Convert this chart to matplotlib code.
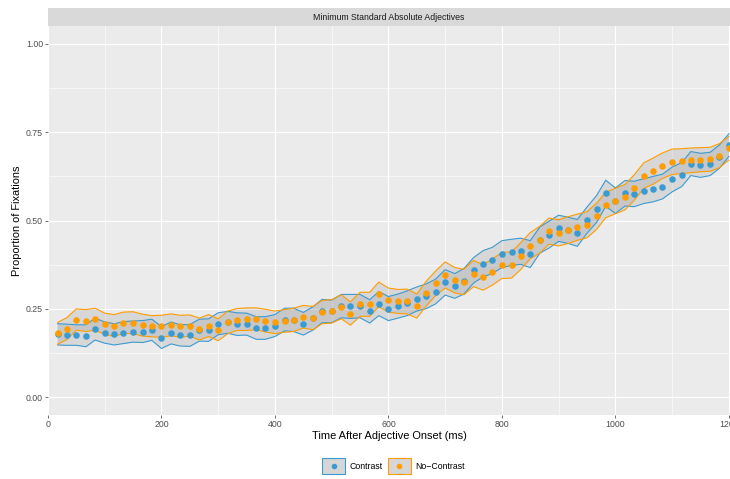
import numpy as np
import matplotlib
matplotlib.use("Agg")
import matplotlib.pyplot as plt
from matplotlib.patches import Rectangle
from matplotlib.lines import Line2D

plt.rcParams['font.family'] = ['Liberation Sans', 'DejaVu Sans']

# time bins after adjective onset (ms)
times = [17, 33, 50, 67, 83, 100, 117, 133, 150, 167, 183, 200,
         217, 233, 250, 267, 283, 300, 317, 333, 350, 367, 383, 400,
         417, 433, 450, 467, 483, 500, 517, 533, 550, 567, 583, 600,
         617, 633, 650, 667, 683, 700, 717, 733, 750, 767, 783, 800,
         817, 833, 850, 867, 883, 900, 917, 933, 950, 967, 983, 1000,
         1017, 1033, 1050, 1067, 1083, 1100, 1117, 1133, 1150, 1167, 1183, 1200]

contrast = [0.178, 0.177, 0.176, 0.174, 0.193, 0.183, 0.178, 0.183, 0.186, 0.186, 0.191, 0.169,
            0.182, 0.175, 0.175, 0.190, 0.190, 0.208, 0.212, 0.207, 0.207, 0.196, 0.196, 0.203,
            0.220, 0.219, 0.208, 0.223, 0.244, 0.243, 0.258, 0.257, 0.258, 0.243, 0.265, 0.251,
            0.258, 0.266, 0.278, 0.286, 0.299, 0.325, 0.315, 0.328, 0.359, 0.378, 0.387, 0.405,
            0.410, 0.413, 0.405, 0.445, 0.460, 0.478, 0.472, 0.465, 0.501, 0.533, 0.577, 0.556,
            0.577, 0.575, 0.583, 0.589, 0.596, 0.616, 0.630, 0.661, 0.656, 0.660, 0.680, 0.713]

no_contrast = [0.181, 0.194, 0.220, 0.217, 0.221, 0.208, 0.203, 0.211, 0.211, 0.204, 0.201, 0.201,
               0.205, 0.201, 0.203, 0.193, 0.203, 0.191, 0.212, 0.220, 0.221, 0.222, 0.217, 0.212,
               0.216, 0.219, 0.228, 0.224, 0.241, 0.243, 0.256, 0.237, 0.263, 0.263, 0.291, 0.275,
               0.271, 0.271, 0.258, 0.294, 0.322, 0.346, 0.331, 0.326, 0.350, 0.339, 0.354, 0.373,
               0.374, 0.399, 0.429, 0.446, 0.470, 0.465, 0.473, 0.481, 0.488, 0.512, 0.544, 0.555,
               0.566, 0.593, 0.627, 0.640, 0.655, 0.666, 0.668, 0.670, 0.672, 0.673, 0.683, 0.704]

# half width of the confidence band
contrast_ci = [0.030, 0.030, 0.029, 0.031, 0.031, 0.030, 0.030, 0.031, 0.030, 0.031, 0.030, 0.031,
               0.031, 0.030, 0.031, 0.031, 0.032, 0.031, 0.031, 0.032, 0.031, 0.032, 0.032, 0.031,
               0.032, 0.033, 0.032, 0.033, 0.033, 0.032, 0.033, 0.034, 0.033, 0.033, 0.034, 0.034,
               0.034, 0.035, 0.034, 0.035, 0.035, 0.036, 0.035, 0.036, 0.036, 0.037, 0.037, 0.038,
               0.037, 0.037, 0.038, 0.037, 0.038, 0.037, 0.037, 0.038, 0.037, 0.038, 0.037, 0.036,
               0.036, 0.036, 0.035, 0.036, 0.035, 0.035, 0.034, 0.034, 0.034, 0.033, 0.033, 0.032]

no_contrast_ci = [0.031, 0.031, 0.030, 0.031, 0.031, 0.030, 0.031, 0.030, 0.031, 0.031, 0.030, 0.031,
                  0.031, 0.031, 0.030, 0.031, 0.031, 0.031, 0.032, 0.031, 0.032, 0.031, 0.032, 0.032,
                  0.032, 0.033, 0.032, 0.033, 0.033, 0.033, 0.034, 0.033, 0.034, 0.034, 0.035, 0.034,
                  0.034, 0.035, 0.034, 0.035, 0.035, 0.037, 0.036, 0.036, 0.037, 0.036, 0.037, 0.037,
                  0.037, 0.038, 0.037, 0.038, 0.037, 0.037, 0.038, 0.037, 0.037, 0.037, 0.036, 0.036,
                  0.036, 0.036, 0.036, 0.037, 0.036, 0.036, 0.035, 0.035, 0.034, 0.034, 0.034, 0.033]

labels = ["Contrast", "No\u2212Contrast"]
colors = ["#3a9ad2", "#ff9c00"]


class KeyHandler:
    # grey box with coloured border and a dot in the middle, like a ggplot key
    def legend_artist(self, legend, orig_handle, fontsize, handlebox):
        x0, y0 = handlebox.xdescent, handlebox.ydescent
        w, h = handlebox.width, handlebox.height
        c = orig_handle.get_color()
        box = Rectangle((-x0, -y0), w, h, facecolor="#d6d6d6", edgecolor=c, lw=0.8,
                        transform=handlebox.get_transform())
        dot = Line2D([-x0 + w / 2], [-y0 + h / 2], ls="", marker="o", ms=4.0, mew=0,
                     color=c, transform=handlebox.get_transform())
        handlebox.add_artist(box)
        handlebox.add_artist(dot)
        return box


W, H = 730, 479
fig = plt.figure(figsize=(W / 100, H / 100), dpi=100)
ax = fig.add_axes([48 / W, 64 / H, 682 / W, 389 / H])
ax.set_facecolor("#ebebeb")
for s in ax.spines.values():
    s.set_visible(False)

t = np.array(times)
series = [(np.array(contrast), np.array(contrast_ci)),
          (np.array(no_contrast), np.array(no_contrast_ci))]

for (m, ci), c in zip(series, colors):
    ax.fill_between(t, m - ci, m + ci, facecolor="#7f7f7f", alpha=0.18, lw=0, zorder=2)
for (m, ci), c in zip(series, colors):
    ax.plot(t, m + ci, color=c, lw=0.8, zorder=3)
    ax.plot(t, m - ci, color=c, lw=0.8, zorder=3)
for (m, ci), c in zip(series, colors):
    ax.plot(t, m, ls="", marker="o", ms=4.7, mew=0, color=c, zorder=4)

ax.set_xlim(0, 1202)
ax.set_ylim(-0.05, 1.05)
ax.set_xticks([0, 200, 400, 600, 800, 1000, 1200])
ax.set_xticks([100, 300, 500, 700, 900, 1100], minor=True)
ax.set_yticks([0, 0.25, 0.5, 0.75, 1.0])
ax.set_yticklabels(["0.00", "0.25", "0.50", "0.75", "1.00"])
ax.set_yticks([0.125, 0.375, 0.625, 0.875], minor=True)
ax.grid(which="major", color="white", lw=0.8)
ax.grid(which="minor", color="white", lw=0.4)
ax.set_axisbelow(True)
ax.tick_params(which="major", length=2, width=0.5, color="#333333",
               labelsize=6.3, labelcolor="#4d4d4d", pad=1.6)
ax.tick_params(which="minor", length=0)

ax.set_xlabel("Time After Adjective Onset (ms)", fontsize=7.9, labelpad=1.5)
ax.set_ylabel("Proportion of Fixations", fontsize=7.9, labelpad=3)

# facet strip
strip = fig.add_axes([48 / W, (H - 26) / H, 682 / W, 18 / H])
strip.set_facecolor("#d9d9d9")
strip.set_xticks([])
strip.set_yticks([])
for s in strip.spines.values():
    s.set_visible(False)
strip.text(0.5, 0.5, "Minimum Standard Absolute Adjectives", ha="center", va="center",
           fontsize=6.3, color="#1a1a1a", transform=strip.transAxes)

handles = [Line2D([], [], color=c) for c in colors]
fig.legend(handles, labels, loc="center", bbox_to_anchor=(393.5 / W, 1 - 466 / H),
           ncol=2, frameon=False, fontsize=6.3,
           handlelength=2.6, handleheight=2.6, handletextpad=0.5, columnspacing=0.6,
           handler_map={Line2D: KeyHandler()})

fig.savefig("out.png", dpi=100)
